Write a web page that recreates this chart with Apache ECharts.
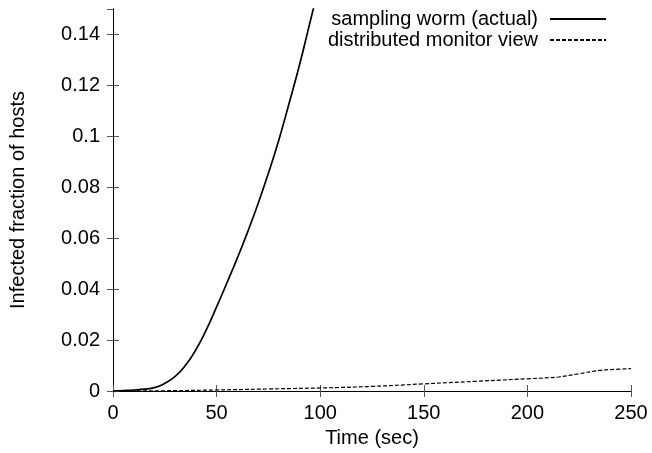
<!DOCTYPE html>
<html>
<head>
<meta charset="utf-8">
<script src="https://cdn.jsdelivr.net/npm/echarts@6/dist/echarts.min.js"></script>
<style>
  html, body { margin: 0; padding: 0; background: #fff; }
  #infectionChart { width: 652px; height: 453px; }
</style>
</head>
<body>
<div id="infectionChart"></div>
<script>
// values
var actualTime = [0, 5, 10, 15, 20, 25, 30, 35, 40, 45, 50, 55, 60, 65, 70, 75, 80, 85, 90, 95, 100];
var actualFraction = [0, 0.0002, 0.0004, 0.0007, 0.0013, 0.003, 0.0057, 0.0101, 0.0162, 0.024, 0.033, 0.0425, 0.0522, 0.0625, 0.0735, 0.0855, 0.0985, 0.113, 0.128, 0.1445, 0.161];

var monitorTime = [0, 25, 50, 75, 100, 125, 150, 175, 200, 210, 215, 225, 235, 240, 250];
var monitorFraction = [0, 0.0001, 0.0004, 0.0008, 0.0012, 0.0018, 0.0028, 0.0038, 0.0048, 0.0052, 0.0055, 0.0068, 0.0081, 0.0084, 0.0088];

var seriesNames = ['sampling worm (actual)', 'distributed monitor view'];

function pairs(xs, ys) {
  return xs.map(function (x, i) { return [x, ys[i]]; });
}

var chartDom = document.getElementById('infectionChart');
var myChart = echarts.init(chartDom);
var font = 'Liberation Sans, Arial, Helvetica, sans-serif';
var tickStyle = { inside: true, length: 6, lineStyle: { color: '#555' } };
var option;
option = {
  animation: false,
  textStyle: { fontFamily: font },
  grid: { left: 113, right: 21, top: 9, bottom: 62 },
  legend: {
    orient: 'vertical',
    align: 'right',
    right: 40,
    top: 4,
    itemWidth: 56,
    itemHeight: 12,
    itemGap: 1,
    itemStyle: { opacity: 0 },
    textStyle: { fontSize: 20, color: '#000', fontFamily: font, lineHeight: 20, padding: [0, 7, 0, 0] },
    data: seriesNames
  },
  xAxis: [
    {
      type: 'value',
      min: 0, max: 250, interval: 50,
      name: 'Time (sec)',
      nameLocation: 'middle',
      nameGap: 37,
      nameTextStyle: { fontSize: 20, color: '#000' },
      axisLine: { show: true, lineStyle: { color: '#000', width: 1 } },
      axisTick: tickStyle,
      axisLabel: { fontSize: 20, color: '#000', margin: 12 },
      splitLine: { show: false }
    },
    {
      type: 'value', position: 'top',
      min: 0, max: 250, interval: 50,
      axisLine: { show: true, lineStyle: { color: '#000', width: 1 } },
      axisTick: tickStyle,
      axisLabel: { show: false },
      splitLine: { show: false }
    }
  ],
  yAxis: [
    {
      type: 'value',
      min: 0, max: 0.15, interval: 0.02,
      name: 'Infected fraction of hosts',
      nameLocation: 'middle',
      nameGap: 85,
      nameTextStyle: { fontSize: 20, color: '#000' },
      axisLine: { show: true, lineStyle: { color: '#000', width: 1 } },
      axisTick: tickStyle,
      axisLabel: { fontSize: 20, color: '#000', margin: 13, showMaxLabel: false },
      splitLine: { show: false }
    },
    {
      type: 'value', position: 'right',
      min: 0, max: 0.15, interval: 0.02,
      axisLine: { show: true, lineStyle: { color: '#000', width: 1 } },
      axisTick: tickStyle,
      axisLabel: { show: false },
      splitLine: { show: false }
    }
  ],
  series: [
    {
      name: seriesNames[0],
      type: 'line',
      symbol: 'none',
      smooth: true,
      clip: true,
      lineStyle: { color: '#000', width: 1.7, type: 'solid' },
      itemStyle: { color: '#000' },
      data: pairs(actualTime, actualFraction)
    },
    {
      name: seriesNames[1],
      type: 'line',
      symbol: 'none',
      smooth: true,
      clip: true,
      lineStyle: { color: '#000', width: 1.2, type: [4, 2] },
      itemStyle: { color: '#000' },
      data: pairs(monitorTime, monitorFraction)
    }
  ]
};
option && myChart.setOption(option);
</script>
</body>
</html>
